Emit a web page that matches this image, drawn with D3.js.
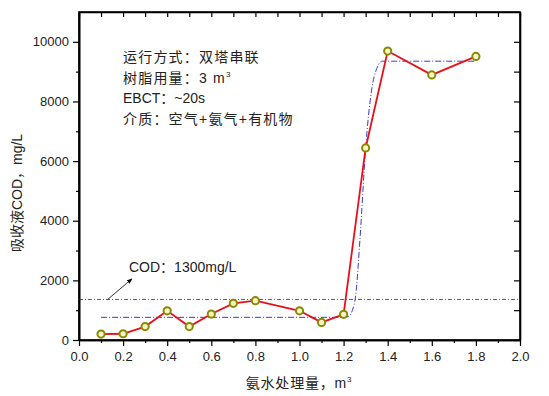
<!DOCTYPE html>
<html>
<head>
<meta charset="utf-8">
<script src="https://cdn.jsdelivr.net/npm/d3@7"></script>
<style>
  body { margin: 0; background: #fff; }
  text { font-family: "Liberation Sans", "Noto Sans CJK SC", sans-serif; fill: #222; }
  .axis path, .axis line { stroke: #000; }
</style>
</head>
<body>
<div id="chart"></div>
<script>
// measured COD of the absorbing liquid vs ammonia water treated
var xs = [0.1, 0.2, 0.3, 0.4, 0.5, 0.6, 0.7, 0.8, 1.0, 1.1, 1.2, 1.3, 1.4, 1.6, 1.8];
var cod = [200, 210, 450, 980, 450, 870, 1230, 1320, 980, 590, 860, 6440, 9690, 8890, 9510];

// fitted breakthrough curve
var fitX = [0.1, 1.2, 1.225, 1.24, 1.255, 1.274, 1.3, 1.327, 1.35, 1.375, 1.8];
var fitY = [760, 760, 800, 1000, 1500, 3350, 6440, 8380, 9100, 9350, 9350];

var limit = 1360; // COD: 1300mg/L reference line

var xTicks = [0, 0.2, 0.4, 0.6, 0.8, 1.0, 1.2, 1.4, 1.6, 1.8, 2.0];
var xMinor = [0.1, 0.3, 0.5, 0.7, 0.9, 1.1, 1.3, 1.5, 1.7, 1.9];
var yTicks = [0, 2000, 4000, 6000, 8000, 10000];
var yMinor = [1000, 3000, 5000, 7000, 9000];

var notes = ["运行方式：双塔串联", "树脂用量：3 m", "EBCT：~20s", "介质：空气+氨气+有机物"];

var margin = {top: 12, right: 29, bottom: 56, left: 79},
  width = 549 - margin.left - margin.right,
  height = 396 - margin.top - margin.bottom;

var x = d3.scaleLinear().domain([0, 2]).range([0, width]);
var y = d3.scaleLinear().domain([0, 11000]).range([height, 0]);

var svg = d3.select("#chart").append("svg")
  .attr("width", 549)
  .attr("height", 396)
  .append("g")
  .attr("transform", "translate(" + margin.left + "," + margin.top + ")");

// axes: left/bottom outward, top/right inward
svg.append("g").attr("class", "axis")
  .attr("transform", "translate(0," + height + ")")
  .call(d3.axisBottom(x).tickValues(xTicks).tickFormat(d3.format(".1f")).tickSizeInner(6).tickSizeOuter(0).tickPadding(6));
svg.append("g").attr("class", "axis")
  .attr("transform", "translate(0," + height + ")")
  .call(d3.axisBottom(x).tickValues(xMinor).tickFormat("").tickSizeInner(3).tickSizeOuter(0));
svg.append("g").attr("class", "axis")
  .call(d3.axisLeft(y).tickValues(yTicks).tickFormat(d3.format("d")).tickSizeInner(6).tickSizeOuter(0).tickPadding(4));
svg.append("g").attr("class", "axis")
  .call(d3.axisLeft(y).tickValues(yMinor).tickFormat("").tickSizeInner(3).tickSizeOuter(0));
svg.append("g").attr("class", "axis")
  .call(d3.axisBottom(x).tickValues(xTicks.concat(xMinor)).tickFormat("").tickSizeInner(5).tickSizeOuter(0));
svg.append("g").attr("class", "axis")
  .attr("transform", "translate(" + width + ",0)")
  .call(d3.axisLeft(y).tickValues(yTicks.concat(yMinor)).tickFormat("").tickSizeInner(6).tickSizeOuter(0));

svg.selectAll(".axis path").attr("stroke-width", 1.6);
svg.selectAll(".axis line").attr("stroke-width", 1.2);
svg.selectAll(".axis text").style("font-size", "13px").attr("fill", "#333");

// frame
svg.append("rect")
  .attr("width", width).attr("height", height)
  .attr("fill", "none").attr("stroke", "#000").attr("stroke-width", 1.6);

// reference line
svg.append("line")
  .attr("x1", 0).attr("x2", width)
  .attr("y1", y(limit)).attr("y2", y(limit))
  .attr("stroke", "#333").attr("stroke-width", 0.8)
  .attr("stroke-dasharray", "4,2,1,2");

// fitted curve
var fit = fitX.map(function(d, i) { return [d, fitY[i]]; });
svg.append("path")
  .datum(fit)
  .attr("fill", "none")
  .attr("stroke", "#3a3ad0")
  .attr("stroke-width", 1)
  .attr("stroke-dasharray", "6,2,1,2")
  .attr("d", d3.line().x(function(d) { return x(d[0]); }).y(function(d) { return y(d[1]); }).curve(d3.curveMonotoneX));

// data line
var pts = xs.map(function(d, i) { return [d, cod[i]]; });
svg.append("path")
  .datum(pts)
  .attr("fill", "none")
  .attr("stroke", "#e8101a")
  .attr("stroke-width", 1.8)
  .attr("d", d3.line().x(function(d) { return x(d[0]); }).y(function(d) { return y(d[1]); }));

svg.selectAll(".dot")
  .data(pts)
  .enter()
  .append("circle")
  .attr("class", "dot")
  .attr("cx", function(d) { return x(d[0]); })
  .attr("cy", function(d) { return y(d[1]); })
  .attr("r", 3.6)
  .attr("fill", "#f4f4c8")
  .attr("stroke", "#8a8a00")
  .attr("stroke-width", 2);

// notes
var note = svg.append("g").attr("transform", "translate(44,0)");
notes.forEach(function(t, i) {
  var tx = note.append("text")
    .attr("y", 50 + i * 20.5)
    .style("font-size", "14px")
    .style("letter-spacing", i == 2 ? "0px" : "1.2px")
    .text(t);
  if (i == 1) {
    tx.append("tspan").attr("dy", -6).style("font-size", "8px").text("3");
  }
});

// arrow and label for the reference line
svg.append("defs").append("marker")
  .attr("id", "arr")
  .attr("viewBox", "0 0 10 10")
  .attr("refX", 9).attr("refY", 5)
  .attr("markerWidth", 7).attr("markerHeight", 7)
  .attr("orient", "auto")
  .append("path").attr("d", "M0,1L10,5L0,9Z").attr("fill", "#000");

svg.append("line")
  .attr("x1", x(0.13)).attr("y1", y(limit))
  .attr("x2", x(0.24)).attr("y2", y(2050))
  .attr("stroke", "#000").attr("stroke-width", 0.8)
  .attr("marker-end", "url(#arr)");

svg.append("text")
  .attr("x", 50).attr("y", 260)
  .style("font-size", "14px")
  .text("COD：1300mg/L");

// axis titles
var xt = svg.append("text")
  .attr("x", 220).attr("y", height + 48)
  .attr("text-anchor", "middle")
  .style("font-size", "14px")
  .style("letter-spacing", "0.8px")
  .text("氨水处理量，m");
xt.append("tspan").attr("dy", -6).style("font-size", "8px").text("3");

svg.append("text")
  .attr("transform", "translate(-57," + (height / 2 + 17) + ") rotate(-90)")
  .attr("text-anchor", "middle")
  .style("font-size", "14px")
  .text("吸收液COD，mg/L");
</script>
</body>
</html>
